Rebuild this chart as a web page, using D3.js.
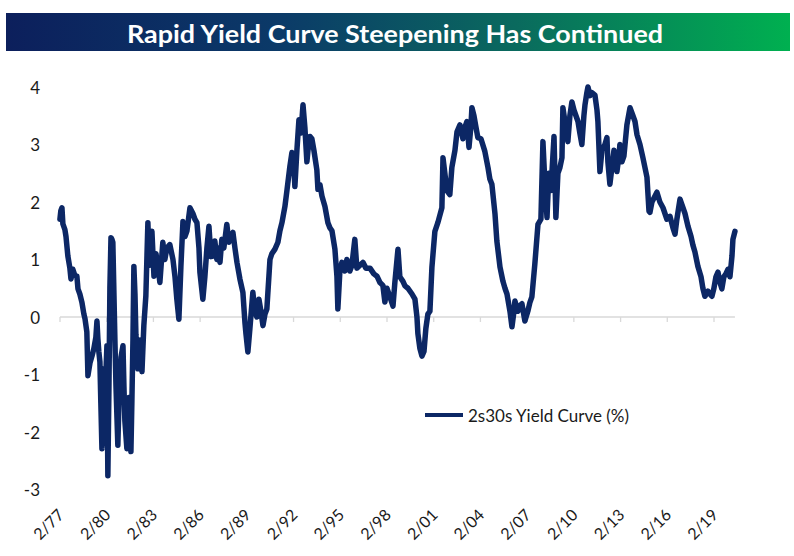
<!DOCTYPE html>
<html><head><meta charset="utf-8">
<script src="https://cdn.jsdelivr.net/npm/d3@7"></script>
<style>body{margin:0;background:#fff;} svg{display:block;}</style>
</head><body>
<svg id="chart" width="794" height="556"></svg>
<script>
const title = "Rapid Yield Curve Steepening Has Continued";
const seriesName = "2s30s Yield Curve (%)";
const tickLabels = ["2/77","2/80","2/83","2/86","2/89","2/92","2/95","2/98","2/01","2/04","2/07","2/10","2/13","2/16","2/19"];
const tickYears = [1977,1980,1983,1986,1989,1992,1995,1998,2001,2004,2007,2010,2013,2016,2019];
const yTicks = [4,3,2,1,0,-1,-2,-3];

// decimal years
const dates = [
1977.08,1977.14,1977.21,1977.27,1977.40,1977.47,1977.59,1977.72,1977.79,1977.91,
1978.04,1978.17,1978.24,1978.36,1978.49,1978.62,1978.69,1978.81,1978.88,1979.01,
1979.14,1979.26,1979.39,1979.46,1979.52,1979.58,1979.65,1979.71,1979.78,1979.84,
1979.91,1979.97,1980.03,1980.10,1980.16,1980.23,1980.29,1980.36,1980.42,1980.48,
1980.55,1980.61,1980.68,1980.80,1980.87,1981.00,1981.13,1981.19,1981.25,1981.38,
1981.51,1981.58,1981.64,1981.70,1981.77,1981.83,1981.90,1981.96,1982.09,1982.22,
1982.35,1982.47,1982.60,1982.73,1982.80,1982.86,1982.99,1983.12,1983.25,1983.37,
1983.50,1983.69,1983.82,1983.95,1984.14,1984.34,1984.47,1984.59,1984.72,1984.85,
1984.98,1985.11,1985.24,1985.43,1985.62,1985.75,1985.88,1986.01,1986.07,1986.26,
1986.39,1986.52,1986.65,1986.78,1986.91,1987.03,1987.16,1987.23,1987.36,1987.48,
1987.61,1987.80,1987.93,1988.06,1988.19,1988.32,1988.45,1988.64,1988.83,1988.96,
1989.03,1989.15,1989.28,1989.47,1989.60,1989.73,1989.86,1989.99,1990.12,1990.25,
1990.37,1990.57,1990.69,1990.89,1991.08,1991.21,1991.34,1991.53,1991.66,1991.85,
1991.98,1992.11,1992.17,1992.30,1992.43,1992.56,1992.69,1992.81,1992.94,1993.01,
1993.14,1993.26,1993.39,1993.58,1993.65,1993.78,1993.91,1994.10,1994.29,1994.42,
1994.55,1994.74,1994.87,1994.93,1995.06,1995.19,1995.38,1995.51,1995.70,1995.83,
1996.02,1996.15,1996.35,1996.54,1996.73,1996.99,1997.24,1997.44,1997.63,1997.82,
1997.95,1998.08,1998.27,1998.47,1998.59,1998.79,1998.91,1999.11,1999.24,1999.43,
1999.69,1999.88,2000.01,2000.07,2000.20,2000.33,2000.46,2000.58,2000.71,2000.84,
2000.97,2001.16,2001.36,2001.61,2001.68,2001.80,2001.93,2002.12,2002.25,2002.45,
2002.58,2002.77,2002.96,2003.09,2003.22,2003.35,2003.47,2003.54,2003.67,2003.80,
2003.92,2004.12,2004.37,2004.57,2004.69,2004.82,2005.02,2005.14,2005.34,2005.53,
2005.66,2005.79,2005.98,2006.11,2006.24,2006.30,2006.49,2006.62,2006.75,2006.94,
2007.13,2007.26,2007.39,2007.58,2007.78,2007.97,2008.10,2008.23,2008.36,2008.48,
2008.61,2008.81,2008.93,2009.06,2009.19,2009.32,2009.38,2009.51,2009.70,2009.83,
2009.96,2010.09,2010.22,2010.35,2010.47,2010.60,2010.73,2010.80,2010.92,2010.99,
2011.12,2011.25,2011.44,2011.57,2011.63,2011.76,2011.89,2012.08,2012.21,2012.27,
2012.40,2012.53,2012.66,2012.85,2012.98,2013.04,2013.17,2013.30,2013.49,2013.69,
2013.88,2014.01,2014.14,2014.33,2014.52,2014.65,2014.78,2014.91,2014.97,2015.10,
2015.29,2015.42,2015.61,2015.81,2016.06,2016.26,2016.45,2016.58,2016.70,2016.90,
2017.03,2017.22,2017.41,2017.61,2017.73,2017.86,2018.05,2018.25,2018.37,2018.50,
2018.69,2018.82,2018.95,2019.08,2019.21,2019.34,2019.47,2019.59,2019.72,2019.85,
2019.98,2020.11,2020.24,2020.30,2020.43
];
const values = [
1.70,1.85,1.90,1.62,1.52,1.40,1.06,0.85,0.66,0.83,
0.72,0.71,0.49,0.40,0.26,0.05,-0.03,-0.26,-1.02,-0.80,
-0.68,-0.55,-0.35,-0.07,-0.38,-0.60,-0.78,-1.50,-2.29,-1.20,
-0.90,-2.20,-1.00,-0.50,-2.76,-1.20,0.50,1.38,1.35,1.30,
0.40,-0.38,-1.20,-2.23,-1.50,-0.70,-0.50,-1.20,-1.80,-2.29,
-1.40,-1.90,-2.34,-1.50,-0.40,0.88,0.40,-0.30,-0.90,-0.40,
-0.95,-0.15,0.37,1.64,1.10,0.90,1.49,0.71,1.10,0.90,
0.60,1.30,1.00,1.20,1.26,1.00,0.70,0.31,-0.04,0.88,
1.66,1.40,1.50,1.90,1.80,1.70,1.64,1.20,0.78,0.31,
0.70,1.20,1.58,1.05,1.06,1.32,1.00,1.20,0.95,1.35,
1.20,1.61,1.30,1.40,1.47,1.20,0.95,0.66,0.43,-0.09,
-0.30,-0.61,-0.20,0.43,0.10,0.00,0.31,0.10,-0.15,0.05,
0.14,1.00,1.10,1.18,1.30,1.50,1.64,1.92,2.20,2.62,
2.86,2.60,2.27,2.90,3.43,3.20,3.69,3.30,2.70,2.90,
3.14,3.10,2.90,2.56,2.22,2.30,2.10,1.92,1.64,1.55,
1.50,1.18,0.71,0.14,0.80,0.95,0.80,1.00,0.80,0.90,
1.35,0.85,0.90,0.95,0.85,0.85,0.75,0.71,0.60,0.55,
0.26,0.50,0.35,0.19,0.60,1.18,0.70,0.62,0.54,0.50,
0.40,0.31,0.00,-0.29,-0.55,-0.68,-0.60,-0.20,0.05,0.10,
0.87,1.49,1.65,1.90,2.77,2.50,2.20,2.13,2.60,2.90,
3.22,3.34,3.10,3.30,3.40,2.95,3.30,3.64,3.50,3.30,
3.12,3.10,2.88,2.60,2.40,2.31,1.79,1.32,0.87,0.62,
0.50,0.40,0.10,-0.17,0.10,0.28,0.10,0.20,0.23,-0.07,
0.10,0.25,0.35,0.92,1.61,1.70,3.05,2.30,1.73,2.50,
2.20,3.14,1.73,2.50,2.60,2.77,3.64,3.40,3.05,3.50,
3.74,3.60,3.50,3.40,3.20,3.00,3.50,3.69,3.90,4.00,
3.85,3.90,3.86,3.60,3.40,2.53,2.90,3.00,3.12,2.70,
2.31,2.60,2.90,2.53,2.80,3.00,2.70,2.80,3.34,3.64,
3.50,3.40,3.17,3.00,2.77,2.60,2.43,1.84,1.82,2.00,
2.10,2.17,2.00,1.90,1.70,1.75,1.55,1.44,1.70,2.05,
1.95,1.80,1.58,1.40,1.25,1.13,0.88,0.70,0.50,0.36,
0.45,0.40,0.36,0.50,0.70,0.78,0.60,0.49,0.70,0.75,
0.83,0.70,1.06,1.35,1.49
];

function toDate(y) {
  const yr = Math.floor(y);
  const start = new Date(yr, 0, 1).getTime();
  const end = new Date(yr + 1, 0, 1).getTime();
  return new Date(start + (y - yr) * (end - start));
}
const data = dates.map((d, i) => ({ date: toDate(d), value: values[i] }));
const tickDates = tickYears.map(y => new Date(y, 1, 1));

const svg = d3.select("#chart");
const navy = "#0c2765";
const font = "Lato, 'Open Sans', sans-serif";

// Title banner
const defs = svg.append("defs");
const grad = defs.append("linearGradient").attr("id", "tg").attr("x1", "0%").attr("x2", "100%");
grad.append("stop").attr("offset", "0%").attr("stop-color", "#0c1f5c");
grad.append("stop").attr("offset", "35%").attr("stop-color", "#0b3a68");
grad.append("stop").attr("offset", "65%").attr("stop-color", "#0a6a5e");
grad.append("stop").attr("offset", "100%").attr("stop-color", "#00b050");
svg.append("rect").attr("x", 6).attr("y", 13).attr("width", 784).attr("height", 38).attr("fill", "url(#tg)");
svg.append("text").attr("x", 395).attr("y", 33).attr("text-anchor", "middle")
  .attr("dominant-baseline", "central").attr("fill", "#fff")
  .style("font-family", font).style("font-weight", "700").style("font-size", "25px")
  .attr("textLength", 536).attr("lengthAdjust", "spacingAndGlyphs")
  .text(title);

const x = d3.scaleTime().domain([tickDates[0], tickDates[tickDates.length - 1]]).range([60, 714]);
const y = d3.scaleLinear().domain([-3, 4]).range([489.5, 87]);

// zero axis line
const lastDate = data[data.length - 1].date;
svg.append("line").attr("x1", x(tickDates[0])).attr("x2", x(lastDate))
  .attr("y1", y(0)).attr("y2", y(0)).attr("stroke", "#d9d9d9").attr("stroke-width", 1.3);
svg.selectAll(".tk").data(tickDates).enter().append("line")
  .attr("x1", d => x(d)).attr("x2", d => x(d)).attr("y1", y(0)).attr("y2", y(0) + 5)
  .attr("stroke", "#d9d9d9").attr("stroke-width", 1.3);

// Y labels
svg.selectAll(".yl").data(yTicks).enter().append("text")
  .attr("x", 40).attr("y", d => y(d)).attr("text-anchor", "end").attr("dominant-baseline", "central")
  .attr("fill", "#1a1a1a").style("font-family", font).style("font-size", "17px")
  .text(d => d);

// X labels
svg.selectAll(".xl").data(tickDates).enter().append("text")
  .attr("transform", d => `translate(${x(d) + 5},516) rotate(-45)`)
  .attr("text-anchor", "end").attr("fill", "#1a1a1a")
  .style("font-family", font).style("font-size", "16px")
  .text((d, i) => tickLabels[i]);

// Series line
const line = d3.line().x(d => x(d.date)).y(d => y(d.value));
svg.append("path").datum(data).attr("d", line).attr("fill", "none")
  .attr("stroke", navy).attr("stroke-width", 5.5).attr("stroke-linejoin", "round").attr("stroke-linecap", "round");

// Legend
svg.append("line").attr("x1", 425).attr("x2", 463).attr("y1", 415).attr("y2", 415)
  .attr("stroke", navy).attr("stroke-width", 4);
svg.append("text").attr("x", 468).attr("y", 415).attr("dominant-baseline", "central")
  .attr("fill", "#1a1a1a").style("font-family", font).style("font-size", "17px")
  .text(seriesName);
</script>
</body></html>
